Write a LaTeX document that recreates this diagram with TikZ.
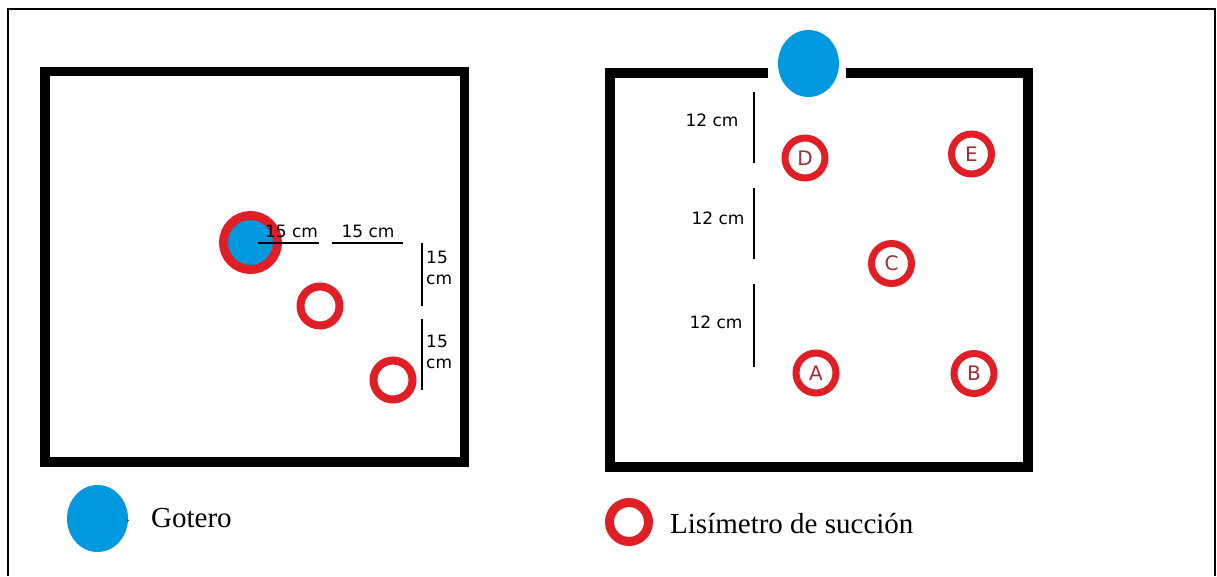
\documentclass[tikz,border=0pt]{standalone}
\usepackage{fontspec}
\usetikzlibrary{shapes.geometric}
\setmainfont{Liberation Serif}
\newfontfamily\dimfont{DejaVu Sans}
\definecolor{drip}{RGB}{0,152,222}
\definecolor{ringred}{RGB}{224,30,38}
\definecolor{letterred}{RGB}{160,45,55}

\begin{document}
\begin{tikzpicture}[x=1pt,y=-1pt,
  wall/.style={line width=9.5pt, line join=miter},
  dimline/.style={line width=1.4pt},
  dimtext/.style={font=\dimfont\fontsize{17}{17}\selectfont, inner sep=0pt},
  probe/.style={circle, draw=ringred, line width=7pt, minimum size=40pt, inner sep=0pt,
    text=letterred, font=\dimfont\fontsize{20}{20}\selectfont},
  ring/.style={circle, draw=ringred, line width=8pt, minimum size=39pt, inner sep=0pt},
  dripper/.style={ellipse, fill=drip, inner sep=0pt, minimum width=61pt, minimum height=67pt},
  legendtext/.style={font=\fontsize{29}{29}\selectfont, inner sep=0pt, anchor=west}]

  \useasboundingbox (0,0) rectangle (1217,576);
  \fill[white] (0,0) rectangle (1217,576);

  % outer frame
  \draw[line width=2pt] (8,576) -- (8,9) -- (1215,9) -- (1215,576);

  % ---- left plot ----
  \draw[wall] (45,71.5) rectangle (464.5,462);

  \node[circle, fill=drip, draw=ringred, line width=9pt, minimum size=54pt, inner sep=0pt]
    (g1) at (250.5,242.5) {};
  \node[ring] (r1) at (320,306) {};
  \node[ring] (r2) at (393,380) {};

  \draw[dimline] (258,243) -- (319,243);
  \draw[dimline] (332,243) -- (403,243);
  \node[dimtext] (h1) at (291.5,231) {15 cm};
  \node[dimtext] (h2) at (368,231) {15 cm};

  \draw[dimline] (422,243) -- (422,306);
  \draw[dimline] (422,319) -- (422,390);
  \node[dimtext, anchor=west] (v1a) at (426,257) {15};
  \node[dimtext, anchor=west] (v1b) at (426,280) {cm};
  \node[dimtext, anchor=west] (v2a) at (426,341) {15};
  \node[dimtext, anchor=west] (v2b) at (426,364) {cm};

  % ---- right plot ----
  \draw[wall] (768,73) -- (610,73) -- (610,467) -- (1028,467) -- (1028,73) -- (846,73);
  \node[dripper] (g2) at (808.5,63.5) {};

  \node[probe] (D) at (805,158) {D};
  \node[probe] (E) at (971.5,154) {E};
  \node[probe] (C) at (891.5,263.5) {C};
  \node[probe] (A) at (816,373) {A};
  \node[probe] (B) at (974,373.5) {B};

  \draw[dimline] (754,92) -- (754,163);
  \draw[dimline] (754,188) -- (754,259);
  \draw[dimline] (754,284) -- (754,367);
  \node[dimtext] (d1) at (712,120) {12 cm};
  \node[dimtext] (d2) at (718,218) {12 cm};
  \node[dimtext] (d3) at (716,322) {12 cm};

  % ---- legend ----
  \node[dripper] (lg) at (97.5,518.5) {};
  \node[font=\fontsize{14}{14}\selectfont, inner sep=0pt] (dot) at (128,521) {.};
  \node[legendtext] (lgt) at (151,518) {Gotero};
  \node[ring, line width=9pt] (lr) at (629,522) {};
  \node[legendtext] (lrt) at (670,524) {Lisímetro de succión};
\end{tikzpicture}
\end{document}
